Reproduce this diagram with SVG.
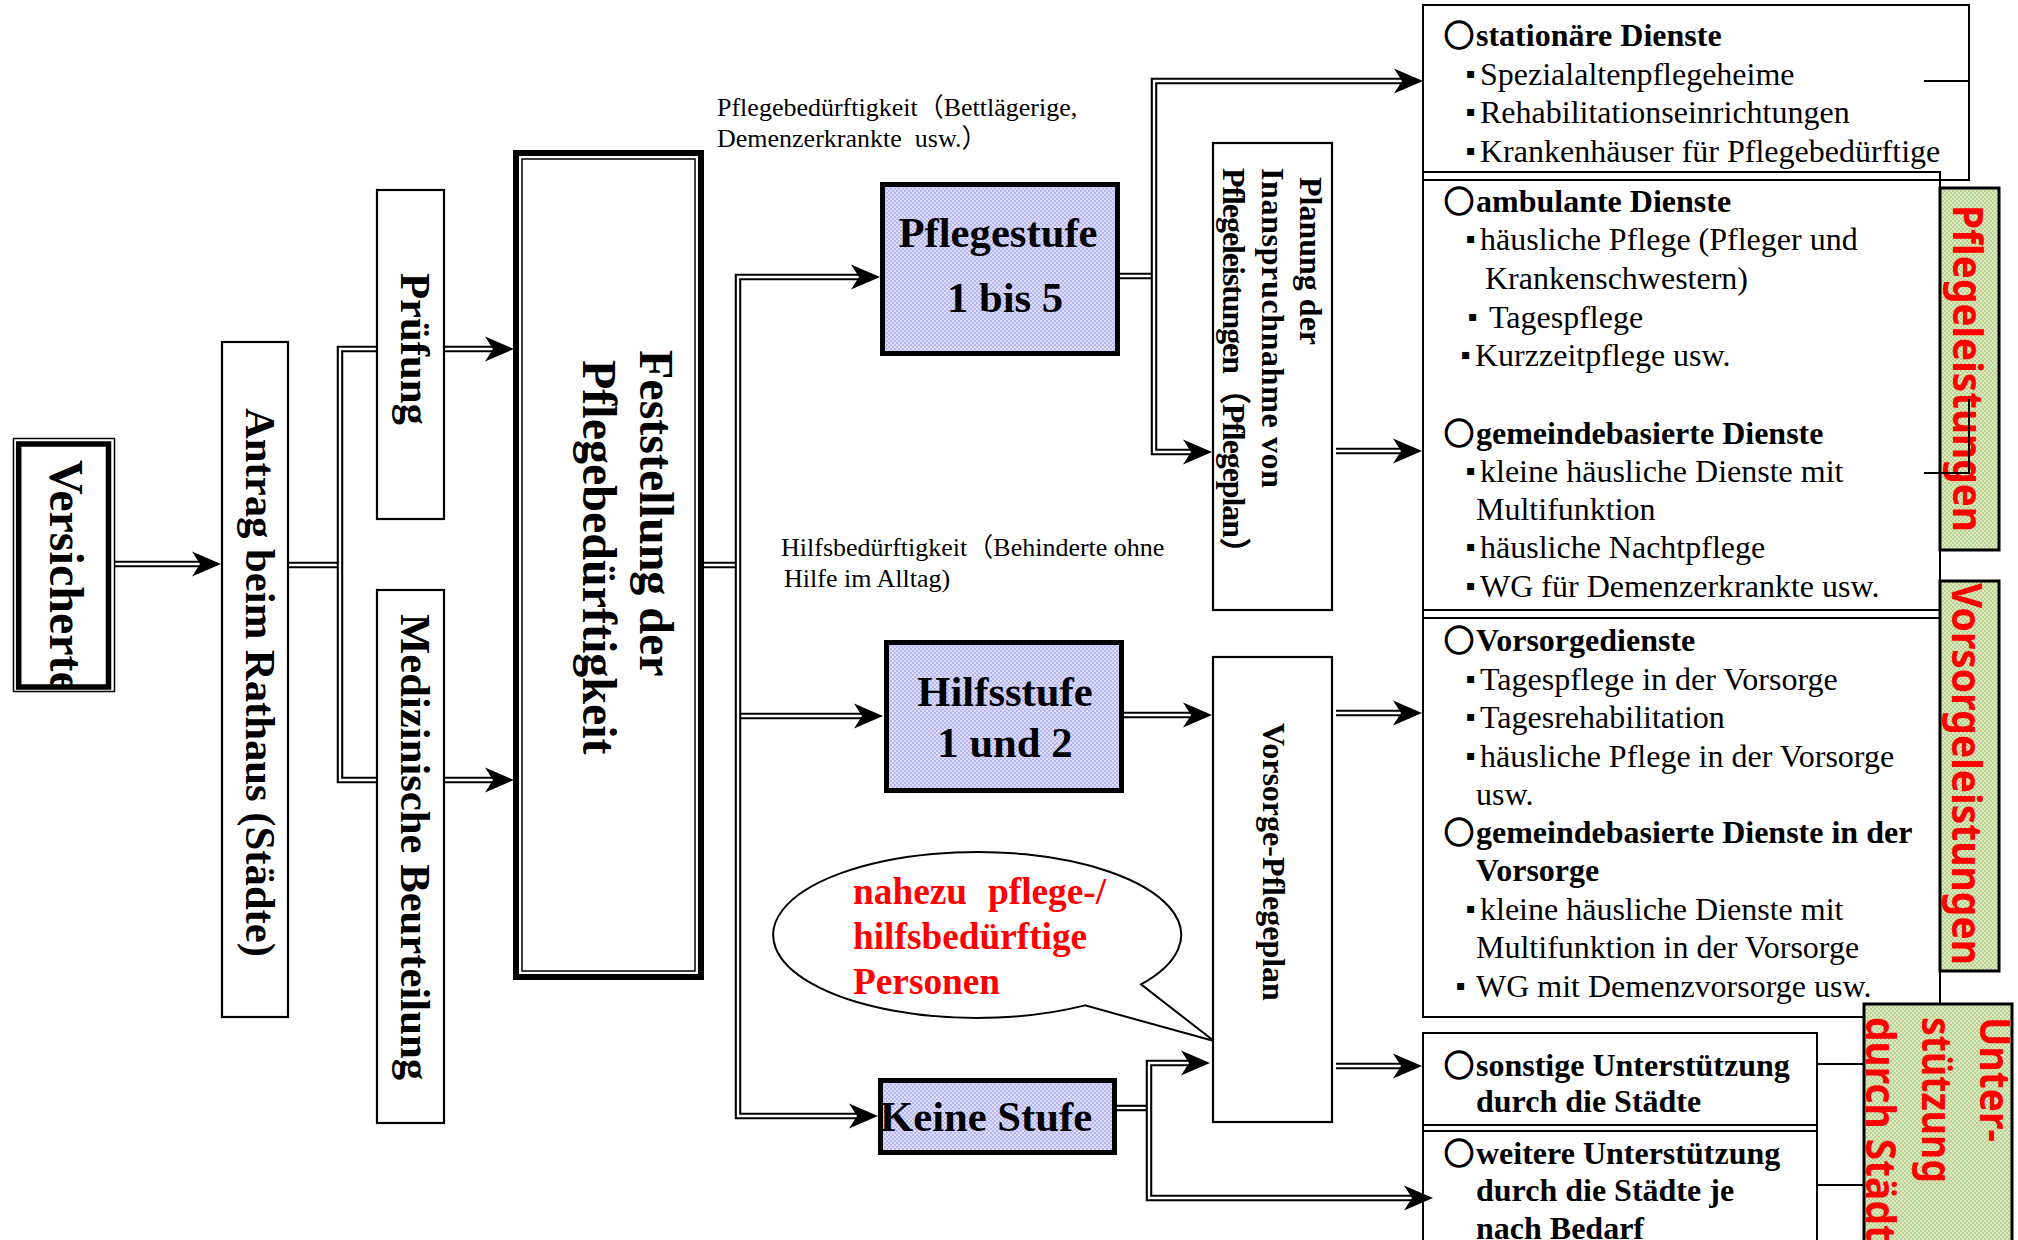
<svg xmlns="http://www.w3.org/2000/svg" width="2018" height="1240" viewBox="0 0 2018 1240">
<defs>
<style>
.s{font-family:"Liberation Serif","Noto Sans CJK JP",serif;fill:#000}
.b{font-weight:bold}
.f48{font-size:48px}.f43{font-size:42.7px}.f32{font-size:32px}.f26{font-size:26px}
.red{fill:#ff0000;font-size:37.3px;font-weight:bold;font-family:"Liberation Serif",serif}
.gs{font-family:"Noto Sans","Open Sans",sans-serif;font-weight:bold;fill:#ff0000;font-size:42px}
.circ{font-family:"Noto Sans CJK JP",sans-serif;font-size:30px;font-weight:bold;stroke:#000;stroke-width:1.6}
.bul{font-family:"DejaVu Sans",sans-serif;font-size:14px}
.thin{fill:#fff;stroke:#000;stroke-width:2.2}
.box{fill:none;stroke:#000;stroke-width:2}
.blue{fill:url(#pb);stroke:#000;stroke-width:5}
.green{fill:url(#pg);stroke:#000;stroke-width:3}
.o{fill:none;stroke:#000;stroke-width:6.5}
.i{fill:none;stroke:#fff;stroke-width:2.3}
.ln{fill:none;stroke:#000;stroke-width:2}
</style>
<pattern id="pb" width="4" height="4" patternUnits="userSpaceOnUse"><rect width="4" height="4" fill="#b6b6f4"/><rect width="2" height="2" fill="#dedeff"/><rect x="2" y="2" width="2" height="2" fill="#dedeff"/></pattern>
<pattern id="pg" width="4" height="4" patternUnits="userSpaceOnUse"><rect width="4" height="4" fill="#bad38f"/><rect width="2" height="2" fill="#dde9c6"/><rect x="2" y="2" width="2" height="2" fill="#dde9c6"/></pattern>
<marker id="ah" markerUnits="userSpaceOnUse" markerWidth="40" markerHeight="30" refX="26" refY="13" orient="auto-start-reverse" overflow="visible"><path d="M35,13 L6,0.5 L14,13 L6,25.5 Z" fill="#000"/></marker>
<clipPath id="cv"><rect x="21" y="447" width="85" height="238"/></clipPath>
</defs>
<rect width="2018" height="1240" fill="#fff"/>

<g id="connectors">
<path class="o" d="M115,564 H212"/><path class="i" d="M115,564 H212" marker-end="url(#ah)"/>
<path class="o" d="M288,565 H340"/><path class="i" d="M288,565 H340"/>
<path class="o" d="M505,349 H340 V780 H505"/><path class="i" d="M505,349 H340 V780 H505" marker-start="url(#ah)" marker-end="url(#ah)"/>
<path class="o" d="M704,565 H738"/><path class="i" d="M704,565 H738"/>
<path class="o" d="M738,716 H874"/><path class="i" d="M738,716 H874" marker-end="url(#ah)"/>
<path class="o" d="M871,277 H738 V1116 H869"/><path class="i" d="M871,277 H738 V1116 H869" marker-start="url(#ah)" marker-end="url(#ah)"/>
<path class="o" d="M1120,276 H1154"/><path class="i" d="M1120,276 H1154"/>
<path class="o" d="M1414,81 H1154 V452 H1203"/><path class="i" d="M1414,81 H1154 V452 H1203" marker-start="url(#ah)" marker-end="url(#ah)"/>
<path class="o" d="M1336,451 H1413"/><path class="i" d="M1336,451 H1413" marker-end="url(#ah)"/>
<path class="o" d="M1124,715 H1203"/><path class="i" d="M1124,715 H1203" marker-end="url(#ah)"/>
<path class="o" d="M1336,713 H1413"/><path class="i" d="M1336,713 H1413" marker-end="url(#ah)"/>
<path class="o" d="M1117,1108 H1149"/><path class="i" d="M1117,1108 H1149"/>
<path class="o" d="M1201,1063 H1149 V1198 H1424"/><path class="i" d="M1201,1063 H1149 V1198 H1424" marker-start="url(#ah)" marker-end="url(#ah)"/>
<path class="o" d="M1336,1066 H1413"/><path class="i" d="M1336,1066 H1413" marker-end="url(#ah)"/>
<path class="ln" d="M1817,1064 H1863 M1817,1185 H1863"/>
</g>

<g id="versicherte">
<rect x="13.5" y="438.5" width="101" height="253" fill="#fff" stroke="#000" stroke-width="1.5"/>
<rect x="18.7" y="444" width="89.8" height="243" fill="none" stroke="#000" stroke-width="5.5"/>
<g clip-path="url(#cv)"><text class="s b f48" transform="translate(50,460) rotate(90)">Versicherte</text></g>
</g>

<g id="antrag">
<rect class="thin" x="222" y="342" width="66" height="675"/>
<text class="s b f43" transform="translate(246,408) rotate(90)">Antrag beim Rathaus (Städte)</text>
</g>

<g id="pruefung">
<rect class="thin" x="377" y="190" width="67" height="329"/>
<text class="s b f43" transform="translate(401,273) rotate(90)">Prüfung</text>
</g>

<g id="medizinisch">
<rect class="thin" x="377" y="590" width="67" height="533"/>
<text class="s b f43" transform="translate(401,614) rotate(90)">Medizinische Beurteilung</text>
</g>

<g id="feststellung">
<rect x="516" y="153" width="185" height="824" fill="#fff" stroke="#000" stroke-width="6"/>
<rect x="522" y="159" width="173" height="812" fill="none" stroke="#000" stroke-width="1.5"/>
<text class="s b f48" transform="translate(640,350) rotate(90)">Feststellung der</text>
<text class="s b f48" transform="translate(583,360) rotate(90)">Pflegebedürftigkeit</text>
</g>

<g id="label-pflege">
<text class="s f26" x="717" y="116">Pflegebedürftigkeit（Bettlägerige,</text>
<text class="s f26" x="717" y="147" xml:space="preserve">Demenzerkrankte  usw.）</text>
</g>
<g id="label-hilfe">
<text class="s f26" x="781" y="556">Hilfsbedürftigkeit（Behinderte ohne</text>
<text class="s f26" x="784" y="587">Hilfe im Alltag)</text>
</g>

<g id="pflegestufe">
<rect class="blue" x="882.5" y="184.5" width="235" height="169"/>
<text class="s b f43" x="998" y="247" text-anchor="middle">Pflegestufe</text>
<text class="s b f43" x="1005" y="312" text-anchor="middle">1 bis 5</text>
</g>

<g id="hilfsstufe">
<rect class="blue" x="886.5" y="642.5" width="235" height="148"/>
<text class="s b f43" x="1005" y="706" text-anchor="middle">Hilfsstufe</text>
<text class="s b f43" x="1005" y="757" text-anchor="middle">1 und 2</text>
</g>

<g id="keine-stufe">
<rect class="blue" x="880.5" y="1080.5" width="234" height="72"/>
<text class="s b f43" x="880" y="1131">Keine Stufe</text>
</g>

<g id="callout">
<path d="M1085,1005.4 A204,83 0 1,1 1141,984.4 L1214,1041 Z" fill="#fff" stroke="#000" stroke-width="2"/>
<text class="red" y="904"><tspan x="853">nahezu</tspan><tspan x="988">pflege-/</tspan></text>
<text class="red" x="853" y="949">hilfsbedürftige</text>
<text class="red" x="853" y="994">Personen</text>
</g>

<g id="planung">
<rect class="thin" x="1213" y="143" width="119" height="467"/>
<text class="s b f32" transform="translate(1300,177) rotate(90)">Planung der</text>
<text class="s b f32" transform="translate(1262,168) rotate(90)" textLength="320">Inanspruchnahme von</text>
<text class="s b f32" transform="translate(1223,168) rotate(90)" textLength="401">Pflegeleistungen（Pflegeplan）</text>
</g>

<g id="vorsorgeplan">
<rect class="thin" x="1213" y="657" width="119" height="465"/>
<text class="s b f32" transform="translate(1263,723) rotate(90)">Vorsorge-Pflegeplan</text>
</g>

<g id="stationaer">
<rect class="box" x="1423" y="5" width="546" height="175"/>
<text class="s b f32" y="46"><tspan class="circ" x="1444">○</tspan><tspan x="1476">stationäre Dienste</tspan></text>
<text class="s f32" y="85"><tspan class="bul" x="1466" dy="-7">▪</tspan><tspan x="1480" dy="7">Spezialaltenpflegeheime</tspan></text>
<text class="s f32" y="123"><tspan class="bul" x="1466" dy="-7">▪</tspan><tspan x="1480" dy="7">Rehabilitationseinrichtungen</tspan></text>
<text class="s f32" y="162"><tspan class="bul" x="1466" dy="-7">▪</tspan><tspan x="1480" dy="7">Krankenhäuser für Pflegebedürftige</tspan></text>
</g>

<g id="ambulant">
<rect class="box" x="1423" y="172" width="517" height="446"/>
<text class="s b f32" y="212"><tspan class="circ" x="1444">○</tspan><tspan x="1476">ambulante Dienste</tspan></text>
<text class="s f32" y="250"><tspan class="bul" x="1466" dy="-7">▪</tspan><tspan x="1480" dy="7">häusliche Pflege (Pfleger und</tspan></text>
<text class="s f32" x="1485" y="289">Krankenschwestern)</text>
<text class="s f32" y="328"><tspan class="bul" x="1468" dy="-7">▪</tspan><tspan x="1489" dy="7">Tagespflege</tspan></text>
<text class="s f32" y="366"><tspan class="bul" x="1461" dy="-7">▪</tspan><tspan x="1475" dy="7">Kurzzeitpflege usw.</tspan></text>
<text class="s b f32" y="444"><tspan class="circ" x="1444">○</tspan><tspan x="1476">gemeindebasierte Dienste</tspan></text>
<text class="s f32" y="482"><tspan class="bul" x="1466" dy="-7">▪</tspan><tspan x="1480" dy="7">kleine häusliche Dienste mit</tspan></text>
<text class="s f32" x="1476" y="520">Multifunktion</text>
<text class="s f32" y="558"><tspan class="bul" x="1466" dy="-7">▪</tspan><tspan x="1480" dy="7">häusliche Nachtpflege</tspan></text>
<text class="s f32" y="597"><tspan class="bul" x="1466" dy="-7">▪</tspan><tspan x="1480" dy="7">WG für Demenzerkrankte usw.</tspan></text>
</g>

<g id="vorsorge">
<rect class="box" x="1423" y="610" width="517" height="407"/>
<text class="s b f32" y="651"><tspan class="circ" x="1444">○</tspan><tspan x="1476">Vorsorgedienste</tspan></text>
<text class="s f32" y="690"><tspan class="bul" x="1466" dy="-7">▪</tspan><tspan x="1480" dy="7">Tagespflege in der Vorsorge</tspan></text>
<text class="s f32" y="728"><tspan class="bul" x="1466" dy="-7">▪</tspan><tspan x="1480" dy="7">Tagesrehabilitation</tspan></text>
<text class="s f32" y="767"><tspan class="bul" x="1466" dy="-7">▪</tspan><tspan x="1480" dy="7">häusliche Pflege in der Vorsorge</tspan></text>
<text class="s f32" x="1476" y="805">usw.</text>
<text class="s b f32" y="843"><tspan class="circ" x="1444">○</tspan><tspan x="1476">gemeindebasierte Dienste in der</tspan></text>
<text class="s b f32" x="1476" y="881">Vorsorge</text>
<text class="s f32" y="920"><tspan class="bul" x="1466" dy="-7">▪</tspan><tspan x="1480" dy="7">kleine häusliche Dienste mit</tspan></text>
<text class="s f32" x="1476" y="958">Multifunktion in der Vorsorge</text>
<text class="s f32" y="997"><tspan class="bul" x="1456" dy="-7">▪</tspan><tspan x="1476" dy="7">WG mit Demenzvorsorge usw.</tspan></text>
</g>

<g id="sonstige">
<rect class="box" x="1423" y="1033" width="394" height="98"/>
<text class="s b f32" y="1076"><tspan class="circ" x="1444">○</tspan><tspan x="1476">sonstige Unterstützung</tspan></text>
<text class="s b f32" x="1476" y="1112">durch die Städte</text>
</g>

<g id="weitere">
<rect class="box" x="1423" y="1125" width="394" height="140"/>
<text class="s b f32" y="1164"><tspan class="circ" x="1444">○</tspan><tspan x="1476">weitere Unterstützung</tspan></text>
<text class="s b f32" x="1476" y="1201">durch die Städte je</text>
<text class="s b f32" x="1476" y="1239">nach Bedarf</text>
</g>

<g id="pflegeleistungen">
<rect class="green" x="1940" y="188" width="59" height="362"/>
<text class="gs" transform="translate(1953,205) rotate(90)" textLength="327" lengthAdjust="spacingAndGlyphs">Pflegeleistungen</text>
<path class="ln" d="M1924,81 H1969 M1969,399 V473 H1924"/>
</g>

<g id="vorsorgeleistungen">
<rect class="green" x="1940" y="581" width="59" height="390"/>
<text class="gs" transform="translate(1952,583) rotate(90)" textLength="382" lengthAdjust="spacingAndGlyphs">Vorsorgeleistungen</text>
</g>

<g id="unterstuetzung">
<rect class="green" x="1864" y="1004" width="148" height="260"/>
<text class="gs" transform="translate(1980,1017) rotate(90)" textLength="125" lengthAdjust="spacingAndGlyphs">Unter-</text>
<text class="gs" transform="translate(1922,1017) rotate(90)" textLength="166" lengthAdjust="spacingAndGlyphs">stützung</text>
<text class="gs" transform="translate(1866,1017) rotate(90)" textLength="248" lengthAdjust="spacingAndGlyphs">durch Städte</text>
</g>
</svg>
